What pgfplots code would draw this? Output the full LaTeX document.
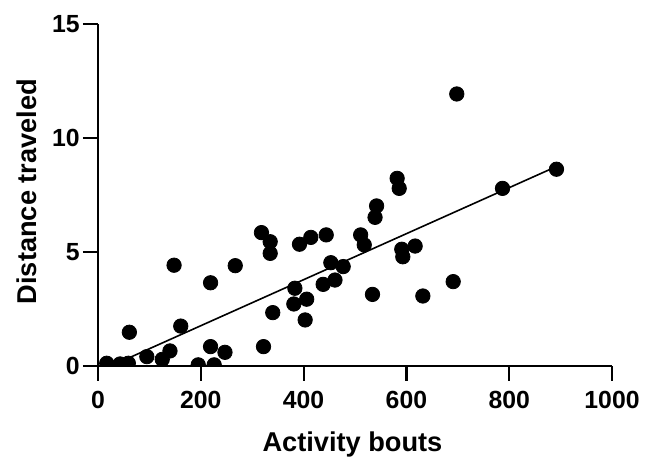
\documentclass[border=0pt]{standalone}
\usepackage{fontspec}
\setmainfont{Liberation Sans}
\usepackage{pgfplots}
\pgfplotsset{compat=1.18}

\begin{document}
\begin{tikzpicture}
\begin{axis}[
  name=ax,
  scale only axis,
  width=257pt, height=171pt,
  xmin=0, xmax=1000, ymin=0, ymax=15,
  axis lines=left,
  axis line style={-, line width=1.1pt},
  xtick={0,200,...,1000},
  ytick={0,5,10,15},
  tick align=outside,
  major tick length=7.5pt,
  tick style={line width=1.1pt, black},
  /pgf/number format/assume math mode=true,
  /pgf/number format/1000 sep={},
  xticklabel={\pgfmathprintnumber{\tick}},
  yticklabel={\pgfmathprintnumber{\tick}},
  ticklabel style={font=\fontsize{12.4pt}{14pt}\selectfont\bfseries},
  xticklabel style={inner sep=0pt, anchor=north, yshift=-5pt},
  yticklabel style={inner sep=0pt, anchor=east, xshift=-1.5pt},
  xlabel={Activity bouts},
  ylabel={Distance traveled},
  label style={font=\fontsize{13.6pt}{16pt}\selectfont\bfseries, inner sep=0pt},
  xlabel style={at={(axis description cs:0.495,0)}, anchor=base, yshift=-42.8pt},
  ylabel style={at={(axis description cs:0,0.51)}, anchor=base, yshift=30.5pt},
  clip marker paths=true,
]
% least-squares line
\addplot[black, line width=0.8pt] coordinates {(20,-0.05) (892,8.75)};
\addplot[only marks, mark=*, mark size=3.6pt, black] coordinates {
  (17,0.12) (43,0.09) (59,0.12) (61,1.48) (95,0.41) (125,0.29)
  (140,0.66) (161,1.75) (195,0.05) (219,0.85) (226,0.05) (247,0.60)
  (322,0.85) (340,2.34)
  (148,4.42) (219,3.65) (267,4.40) (318,5.85) (335,5.45) (335,4.94)
  (381,2.72) (383,3.41) (392,5.34) (403,2.02) (406,2.93) (414,5.64)
  (438,3.58) (444,5.75) (453,4.53) (461,3.77) (477,4.36) (511,5.75)
  (518,5.31) (534,3.14) (539,6.52) (542,7.02) (582,8.23) (586,7.79)
  (591,5.12) (593,4.79) (617,5.26) (632,3.07) (691,3.70) (698,11.93)
  (787,7.79) (892,8.63)
};
\end{axis}
\path ([shift={(-49pt,-46pt)}]ax.south west) rectangle ([shift={(20pt,12pt)}]ax.north east);
\end{tikzpicture}
\end{document}
